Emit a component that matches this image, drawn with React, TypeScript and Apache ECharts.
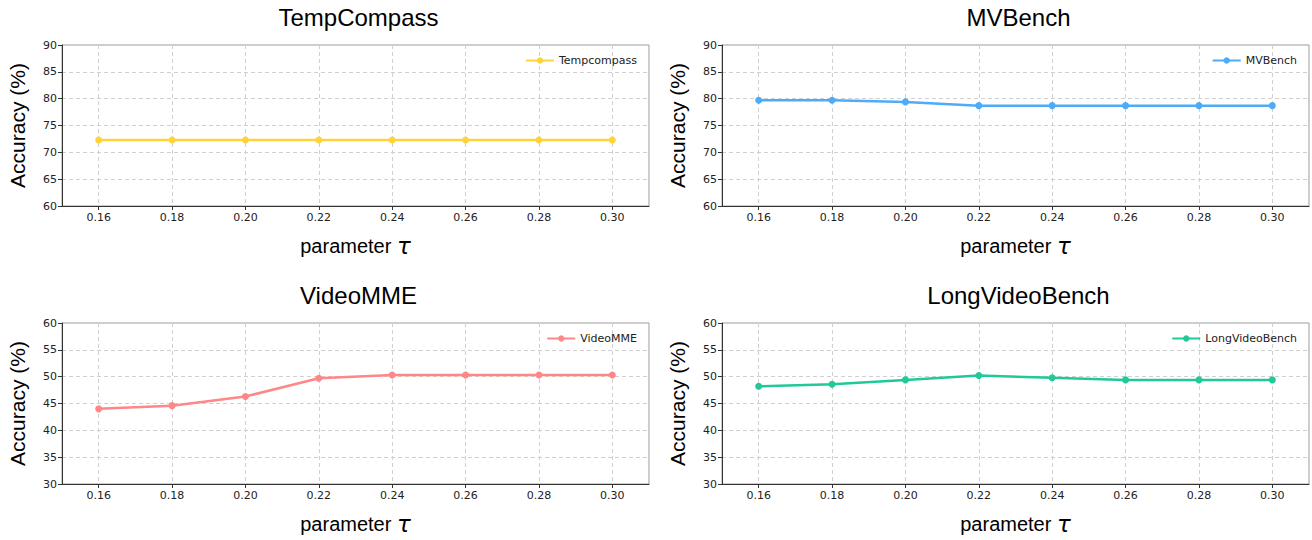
import React, { useEffect, useRef } from "react";
import * as echarts from "echarts";

const tauValues = [0.16, 0.18, 0.2, 0.22, 0.24, 0.26, 0.28, 0.3];
const tempCompass = [72.3, 72.3, 72.3, 72.3, 72.3, 72.3, 72.3, 72.3];
const mvBench = [79.7, 79.7, 79.4, 78.7, 78.7, 78.7, 78.7, 78.7];
const videoMME = [44.0, 44.6, 46.3, 49.7, 50.3, 50.3, 50.3, 50.3];
const longVideoBench = [48.2, 48.6, 49.4, 50.2, 49.8, 49.4, 49.4, 49.4];

const panelTitles = ["TempCompass", "MVBench", "VideoMME", "LongVideoBench"];
const legendNames = ["Tempcompass", "MVBench", "VideoMME", "LongVideoBench"];
const panelData = [tempCompass, mvBench, videoMME, longVideoBench];
const panelColors = ["#FFD43B", "#4DABF7", "#FF8787", "#20C997"];
const yRanges = [
  [60, 90],
  [60, 90],
  [30, 60],
  [30, 60],
];

export default function App() {
  const ref = useRef<HTMLDivElement>(null);
  useEffect(() => {
    document.body.style.margin = "0";
    const chart = echarts.init(ref.current!, null, { renderer: "svg" });
    const W = 1312;
    const lefts = [62, 722, 62, 722];
    const tops = [45, 45, 323, 323];
    const gw = 587;
    const gh = 161;
    const tickFont = { fontFamily: "DejaVu Sans", fontSize: 11, color: "#222" };

    const option: any = {
      animation: false,
      backgroundColor: "#ffffff",
      title: panelTitles.map((t, i) => ({
        text: t,
        left: lefts[i] + gw / 2 - 2,
        top: tops[i] - 45,
        textAlign: "center",
        textStyle: {
          fontFamily: "Liberation Sans",
          fontSize: 24,
          fontWeight: "normal",
          color: "#000",
        },
      })),
      grid: lefts.map((l, i) => ({
        left: l,
        top: tops[i],
        width: gw,
        height: gh,
        show: true,
        borderColor: "#9a9a9a",
        borderWidth: 1,
        backgroundColor: "transparent",
      })),
      legend: legendNames.map((n, i) => ({
        data: [n],
        right: W - (lefts[i] + gw) + 7,
        top: tops[i] + 5,
        itemWidth: 28,
        itemHeight: 8,
        textStyle: { fontFamily: "DejaVu Sans", fontSize: 11, color: "#222" },
      })),
      xAxis: lefts.map((_, i) => ({
        type: "value",
        gridIndex: i,
        min: 0.15,
        max: 0.31,
        splitNumber: 8,
        minInterval: 0.02,
        maxInterval: 0.02,
        name: "{a|parameter }{b|τ}",
        nameLocation: "middle",
        nameGap: 28,
        nameTextStyle: {
          rich: {
            a: { fontFamily: "Liberation Sans", fontSize: 20, color: "#000" },
            b: {
              fontFamily: "DejaVu Sans",
              fontStyle: "italic",
              fontSize: 23,
              color: "#000",
            },
          },
        },
        axisLine: { show: true, onZero: false, lineStyle: { color: "#333", width: 1 } },
        axisTick: { show: true, length: 4, lineStyle: { color: "#333" } },
        axisLabel: {
          ...tickFont,
          margin: 6,
          showMinLabel: false,
          showMaxLabel: false,
          formatter: (v: number) => v.toFixed(2),
        },
        splitLine: {
          show: true,
          lineStyle: { color: "#d0d0d0", type: [4, 3], width: 1 },
        },
      })),
      yAxis: lefts.map((_, i) => ({
        type: "value",
        gridIndex: i,
        min: yRanges[i][0],
        max: yRanges[i][1],
        interval: 5,
        name: "Accuracy (%)",
        nameLocation: "middle",
        nameGap: 34,
        nameTextStyle: { fontFamily: "Liberation Sans", fontSize: 21, color: "#000" },
        axisLine: { show: true, onZero: false, lineStyle: { color: "#333", width: 1 } },
        axisTick: { show: true, length: 4, lineStyle: { color: "#333" } },
        axisLabel: { ...tickFont, margin: 5 },
        splitLine: {
          show: true,
          lineStyle: { color: "#d0d0d0", type: [4, 3], width: 1 },
        },
      })),
      series: panelData.map((d, i) => ({
        type: "line",
        name: legendNames[i],
        xAxisIndex: i,
        yAxisIndex: i,
        data: d.map((v, j) => [tauValues[j], v]),
        symbol: "circle",
        symbolSize: 7,
        lineStyle: { color: panelColors[i], width: 2.5 },
        itemStyle: { color: panelColors[i] },
      })),
    };
    chart.setOption(option);
    return () => chart.dispose();
  }, []);
  return <div ref={ref} style={{ width: 1312, height: 540 }} />;
}
